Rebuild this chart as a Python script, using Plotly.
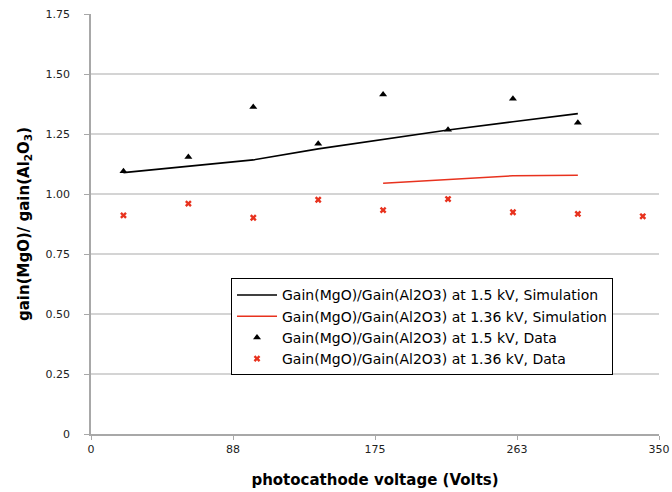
import plotly.graph_objects as go

# Data
sim_x_15 = [20, 60, 100, 140, 180, 220, 260, 300]
sim_y_15 = [1.089, 1.117, 1.142, 1.188, 1.228, 1.267, 1.301, 1.335]
sim_x_136 = [180, 220, 260, 300]
sim_y_136 = [1.045, 1.061, 1.076, 1.078]
data_x_15 = [20, 60, 100, 140, 180, 220, 260, 300]
data_y_15 = [1.095, 1.154, 1.362, 1.209, 1.415, 1.268, 1.397, 1.297]
data_x_136 = [20, 60, 100, 140, 180, 220, 260, 300, 340]
data_y_136 = [0.911, 0.960, 0.901, 0.976, 0.933, 0.979, 0.924, 0.917, 0.907]

x_tickvals = [0, 87.5, 175, 262.5, 350]
x_ticktext = ["0", "88", "175", "263", "350"]
y_tickvals = [0, 0.25, 0.5, 0.75, 1.0, 1.25, 1.5, 1.75]
y_ticktext = ["0", "0.25", "0.50", "0.75", "1.00", "1.25", "1.50", "1.75"]

RED = "#e8321e"
FONT = "DejaVu Sans"

fig = go.Figure()
fig.add_trace(go.Scatter(x=sim_x_15, y=sim_y_15, mode="lines",
                         line=dict(color="black", width=1.6),
                         name="Gain(MgO)/Gain(Al2O3) at 1.5 kV, Simulation"))
fig.add_trace(go.Scatter(x=sim_x_136, y=sim_y_136, mode="lines",
                         line=dict(color=RED, width=1.6),
                         name="Gain(MgO)/Gain(Al2O3) at 1.36 kV, Simulation"))
fig.add_trace(go.Scatter(x=data_x_15, y=data_y_15, mode="markers",
                         marker=dict(symbol="triangle-up", color="black", size=7),
                         name="Gain(MgO)/Gain(Al2O3) at 1.5 kV, Data"))
fig.add_trace(go.Scatter(x=data_x_136, y=data_y_136, mode="markers",
                         marker=dict(symbol="x", color=RED, size=6, line=dict(width=0)),
                         name="Gain(MgO)/Gain(Al2O3) at 1.36 kV, Data"))

fig.update_layout(
    width=672, height=492,
    margin=dict(l=91, r=13, t=14, b=58, autoexpand=False),
    paper_bgcolor="white", plot_bgcolor="white",
    font=dict(family=FONT, size=11, color="#222222"),
    showlegend=True,
    legend=dict(x=0.2465, y=0.255, xanchor="left", yanchor="middle",
                bordercolor="black", borderwidth=1, bgcolor="white",
                font=dict(family=FONT, size=14, color="black"),
                tracegroupgap=0, itemwidth=40),
    xaxis=dict(range=[0, 350], tickvals=x_tickvals, ticktext=x_ticktext,
               showgrid=False, zeroline=False, automargin=False,
               showline=True, linecolor="#a8a8a8", linewidth=1.5,
               ticks="outside", ticklen=4, tickcolor="#a8a8a8",
               tickfont=dict(family=FONT, size=11, color="#222222"),
               title=dict(text="<b>photocathode voltage (Volts)</b>",
                          font=dict(family=FONT, size=15, color="black"), standoff=20)),
    yaxis=dict(range=[0, 1.75], tickvals=y_tickvals, ticktext=y_ticktext,
               showgrid=True, gridcolor="#d4d4d4", gridwidth=1.5, zeroline=False,
               automargin=False,
               showline=True, linecolor="#a8a8a8", linewidth=1.5,
               ticks="outside", ticklen=5, tickcolor="#a8a8a8",
               ticklabelstandoff=12,
               tickfont=dict(family=FONT, size=11, color="#222222"),
               title=dict(text="<b>gain(MgO)/ gain(Al<sub>2</sub>O<sub>3</sub>)</b>",
                          font=dict(family=FONT, size=15, color="black"), standoff=12)),
)

fig.write_html("out.html")
